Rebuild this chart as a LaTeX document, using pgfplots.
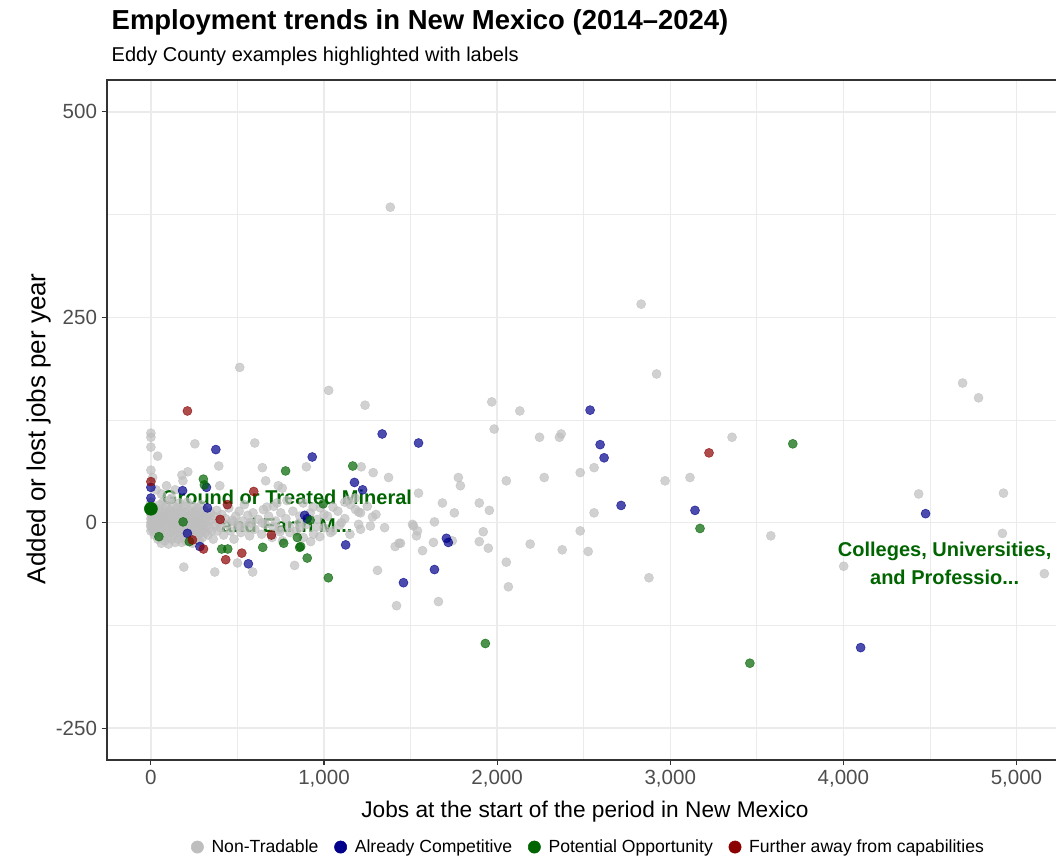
\documentclass[border=0pt]{standalone}
\usepackage{fontspec}
\setmainfont{Liberation Sans}
\usepackage{pgfplots}
\pgfplotsset{compat=1.18}
\definecolor{ptgray}{RGB}{190,190,190}
\definecolor{ptblue}{RGB}{0,0,139}
\definecolor{ptgreen}{RGB}{0,100,0}
\definecolor{ptred}{RGB}{139,0,0}
\definecolor{gridc}{RGB}{235,235,235}
\definecolor{axc}{RGB}{51,51,51}
\definecolor{tickc}{RGB}{77,77,77}
\begin{document}
\begin{tikzpicture}
\path[use as bounding box] (0,0) rectangle (792pt,643.5pt);
\begin{axis}[
  at={(80.25pt,73.5pt)}, anchor=south west,
  scale only axis, width=720pt, height=510pt,
  xmin=-253.6, xmax=5292, ymin=-288.8, ymax=538.8,
  xtick={0,1000,2000,3000,4000,5000},
  minor xtick={500,1500,2500,3500,4500},
  ytick={-250,0,250,500},
  minor ytick={-125,125,375},
  grid=both,
  major grid style={gridc, line width=1.1pt},
  minor grid style={gridc, line width=0.6pt},
  axis line style={axc, line width=0.8pt},
  tick style={axc, line width=0.8pt},
  major tick length=4pt, minor tick length=0pt,
  tick align=outside,
  xtick pos=left, ytick pos=left,
  tick label style={font=\fontsize{15.4}{18}\selectfont, color=tickc},
  /pgf/number format/.cd, 1000 sep={,}, assume math mode=true, /pgfplots/.cd,
  legend style={at={(axis description cs:0.502,-0.128)}, anchor=center, draw=none, fill=none,
    font=\fontsize{13.2}{15}\selectfont, legend columns=4,
    /tikz/every odd column/.append style={column sep=4pt},
    /tikz/every even column/.append style={column sep=10pt}},
  legend cell align=left,
  every axis plot/.append style={only marks, mark=*, mark size=3.4pt,
     mark options={fill opacity=0.7, draw opacity=0.7}},
]
\addlegendimage{only marks, mark=*, mark size=4.6pt, ptgray, mark options={fill opacity=1, draw opacity=1}}
\addlegendentry{Non-Tradable}
\addlegendimage{only marks, mark=*, mark size=4.6pt, ptblue, mark options={fill opacity=1, draw opacity=1}}
\addlegendentry{Already Competitive}
\addlegendimage{only marks, mark=*, mark size=4.6pt, ptgreen, mark options={fill opacity=1, draw opacity=1}}
\addlegendentry{Potential Opportunity}
\addlegendimage{only marks, mark=*, mark size=4.6pt, ptred, mark options={fill opacity=1, draw opacity=1}}
\addlegendentry{Further away from capabilities}

% Non-Tradable
\addplot[ptgray, forget plot] coordinates {
(1383,384)(2832,266)(2921,181)(4689,170)(4781,152)(513,189)(1027,161)(1237,143)(1969,147)(2131,136)
(1983,114)(2245,104)(2360,104)(2370,108)(3357,104)(3114,55)(2970,51)(2560,67)(2480,61)(2560,12)
(2480,-10)(2272,55)(2053,51)(1776,55)(1788,45)(1546,36)(1684,24)(1753,12)(1897,24)(1955,15)
(1638,1)(1511,-2)(1540,-10)(1534,-16)(1442,-25)(1569,-34)(1632,-24)(1741,-22)(1897,-23)(1920,-11)
(1949,-31)(2053,-48)(2065,-78)(2191,-26)(2376,-33)(2526,-35)(2877,-67)(1661,-96)(1419,-101)(4435,35)
(4925,36)(4919,-13)(5161,-62)(3581,-16)(4002,-53)(1309,-58)(1411,-29)(1433,-25)(830,-52)(588,-60)
(500,-49)(369,-60)(190,-54)
(0,109)(0,104)(0,92)(39,81)(254,96)(600,97)(392,69)(644,67)(898,68)(0,64)(179,58)(213,62)(185,51)
(398,45)(663,51)(736,45)(759,42)(1215,68)(1284,61)(1373,55)(1153,22)(1182,16)(1211,12)(1280,7)
(1268,-4)(1211,-8)(1038,-12)(975,-17)(880,-18)(923,-23)(854,-1)(1517,-4)
(1137,27)(1200,13)(1052,19)(937,19)(1090,-3)(1000,10)(960,-5)(1120,5)
(642,0)(706,-5)(745,-11)(515,-5)(572,0)(479,1)(803,-12)(861,-6)(670,19)(728,24)(786,27)
(10,55)(30,40)(60,35)(90,45)(120,30)(140,40)
(0,0)(0,5)(0,-5)(0,10)(0,-10)(0,20)(0,25)(0,-3)(5,2)(10,-8)(12,6)(15,12)(18,-2)(20,-15)(22,3)
(25,8)(28,-12)(30,18)(32,-5)(35,0)(38,10)(40,-20)(42,4)(45,-8)(48,15)(50,-2)(52,22)(55,-12)
(58,6)(60,-25)(62,12)(65,0)(68,-6)(70,25)(72,8)(75,-15)(78,3)(80,-22)(82,14)(85,-4)(88,20)
(90,-10)(92,5)(95,-18)(98,10)(100,0)(102,-26)(105,16)(108,-6)(110,28)(112,4)(115,-12)(118,12)
(120,-20)(122,-1)(125,22)(128,-9)(130,7)(133,-16)(135,14)(138,-3)(140,-24)(142,9)(145,0)
(148,-12)(150,18)(152,-6)(155,4)(158,-20)(160,12)(162,-2)(165,24)(168,-14)(170,6)(172,-8)
(175,16)(178,-24)(180,2)(182,-10)(185,10)(188,-18)(190,-3)(192,20)(195,-12)(198,5)(200,-22)
(202,13)(205,-6)(208,1)(210,25)(212,-15)(215,8)(218,-4)(220,-20)(222,15)(225,0)(228,-10)
(230,5)(233,-17)(235,11)(238,-2)(240,-25)(242,20)(245,-8)(248,3)(250,-14)(252,9)(255,-4)
(258,14)(260,-20)(262,2)(265,-9)(268,18)(270,-3)(272,-15)(275,7)(278,-1)(280,-22)(282,12)
(285,-6)(288,4)(290,-12)(292,22)(295,-2)(298,-18)(300,8)(305,-8)(308,15)(310,0)(315,-12)
(318,6)(320,-4)(325,10)(330,-15)(335,2)(340,-6)(345,12)(350,-10)(355,4)(360,-20)(365,8)
(370,-3)(380,15)(385,-10)(390,0)(400,-6)(410,10)(420,-15)(430,5)(440,-2)(450,18)(460,-10)
(470,3)(480,-20)(490,8)(500,-4)(510,14)(520,-12)(530,2)(540,22)(550,-6)(560,9)(570,-16)
(580,0)(590,12)(600,-8)(620,4)(640,-14)(650,16)(660,-2)(680,8)(700,-18)(710,20)(720,2)
(740,-8)(750,12)(760,-22)(780,5)(800,-5)(820,14)(840,-10)(860,8)(880,24)(900,-2)(920,12)
(940,-14)(960,4)(980,18)(1000,-6)(1020,8)(1050,-10)(1080,14)(1100,0)(1120,25)(1150,-14)
(1180,30)(1200,-2)(1250,20)(1300,10)(1350,-6)
};
% Already Competitive
\addplot[ptblue, forget plot] coordinates {
(2537,137)(2595,95)(2618,79)(2716,21)(3143,15)(1546,97)(1707,-19)(1718,-24)(1638,-57)(1459,-73)
(4475,11)(4100,-152)(1336,108)(932,80)(375,89)(1176,49)(1223,40)(1125,-27)(888,9)(903,5)
(563,-50)(283,-29)(211,-13)(183,39)(321,43)(327,18)(0,43)(0,30)
};
% Potential Opportunity
\addplot[ptgreen, forget plot] coordinates {
(3708,96)(3172,-7)(1932,-147)(3460,-171)(1166,69)(778,63)(303,53)(309,46)(995,23)(1025,-67)
(903,-43)(859,-30)(767,-25)(646,-30)(846,-18)(865,-29)(409,-32)(444,-32)(46,-17)(222,-23)
(920,3)(186,1)
};
% Further away from capabilities
\addplot[ptred, forget plot] coordinates {
(3224,85)(211,136)(0,50)(594,38)(442,22)(696,-15)(525,-37)(432,-45)(240,-21)(304,-32)(400,4)
};
% highlighted Eddy County example
\addplot[ptgreen, forget plot, mark size=4.9pt, mark options={fill opacity=1, draw opacity=1}] coordinates {(0,17)};

\node[font=\fontsize{15}{21}\selectfont\bfseries, text=ptgreen, align=center] at (axis cs:786,14)
  {Ground or Treated Mineral\\and Earth M...};
\node[font=\fontsize{15}{21}\selectfont\bfseries, text=ptgreen, align=center] at (axis cs:4585,-49)
  {Colleges, Universities,\\and Professio...};
\end{axis}
\node[anchor=base west, font=\fontsize{20.6}{24}\selectfont\bfseries] at (80.25pt,621pt)
  {Employment trends in New Mexico (2014--2024)};
\node[anchor=base west, font=\fontsize{15}{18}\selectfont] at (80.25pt,597pt)
  {Eddy County examples highlighted with labels};
\node[anchor=base, font=\fontsize{17}{20}\selectfont] at (438.75pt,30.75pt)
  {Jobs at the start of the period in New Mexico};
\node[anchor=base, rotate=90, font=\fontsize{19.5}{22}\selectfont] at (34pt,322pt)
  {Added or lost jobs per year};
\end{tikzpicture}
\end{document}
